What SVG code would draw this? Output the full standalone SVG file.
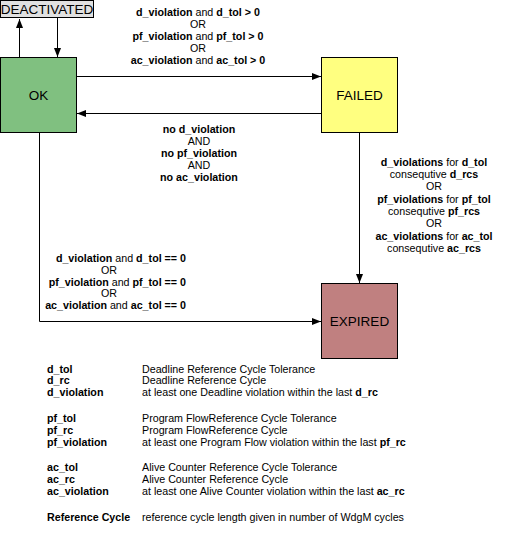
<svg xmlns="http://www.w3.org/2000/svg" width="512" height="539" viewBox="0 0 512 539">
  <style>
    text { font-family: "Liberation Sans", Arial, sans-serif; font-size: 10.7px; fill: #000; }
    .b { font-weight: bold; }
    .c { text-anchor: middle; }
    .e { text-anchor: end; }
    .state { stroke: #000; stroke-width: 1; }
    .state-label { font-size: 13.5px; text-anchor: middle; }
    .conn { fill: none; stroke: #000; stroke-width: 1; }
  </style>
  <defs>
    <marker id="arrow" markerUnits="userSpaceOnUse" markerWidth="10" markerHeight="8" refX="9" refY="4" orient="auto">
      <path d="M0,0.5 L9,4 L0,7.5 z" fill="#000"/>
    </marker>
  </defs>
  <rect width="512" height="539" fill="#fff"/>

  <!-- connectors -->
  <g id="connectors">
    <path class="conn" d="M19.5,57 V19" marker-end="url(#arrow)"/>
    <path class="conn" d="M57.5,18 V57" marker-end="url(#arrow)"/>
    <path class="conn" d="M76,76.5 H321" marker-end="url(#arrow)"/>
    <path class="conn" d="M321,113.5 H77" marker-end="url(#arrow)"/>
    <path class="conn" d="M359.5,132 V283" marker-end="url(#arrow)"/>
    <path class="conn" d="M39.5,132 V321.5 H321" marker-end="url(#arrow)"/>
  </g>

  <!-- states -->
  <g id="deactivated">
    <rect class="state" x="0.5" y="0.5" width="93" height="17" fill="#e0e0e0" stroke="#606060"/>
    <text class="state-label" x="47" y="14">DEACTIVATED</text>
  </g>
  <g id="ok">
    <rect class="state" x="0.5" y="57.5" width="76" height="75" fill="#80c080"/>
    <text class="state-label" x="38.5" y="100">OK</text>
  </g>
  <g id="failed">
    <rect class="state" x="321.5" y="57.5" width="76" height="75" fill="#ffff80"/>
    <text class="state-label" x="359.5" y="100">FAILED</text>
  </g>
  <g id="expired">
    <rect class="state" x="321.5" y="283.5" width="76" height="75" fill="#c08080"/>
    <text class="state-label" x="359.5" y="326">EXPIRED</text>
  </g>

  <!-- transition conditions -->
  <g id="label-ok-failed">
    <text class="c" x="198" y="16"><tspan class="b">d_violation</tspan> and <tspan class="b">d_tol &gt; 0</tspan></text>
    <text class="c" x="198" y="28">OR</text>
    <text class="c" x="198" y="40"><tspan class="b">pf_violation</tspan> and <tspan class="b">pf_tol &gt; 0</tspan></text>
    <text class="c" x="198" y="52">OR</text>
    <text class="c" x="198" y="64"><tspan class="b">ac_violation</tspan> and <tspan class="b">ac_tol &gt; 0</tspan></text>
  </g>
  <g id="label-failed-ok">
    <text class="c b" x="199" y="133">no d_violation</text>
    <text class="c" x="199" y="145">AND</text>
    <text class="c b" x="199" y="157">no pf_violation</text>
    <text class="c" x="199" y="169">AND</text>
    <text class="c b" x="199" y="181">no ac_violation</text>
  </g>
  <g id="label-failed-expired">
    <text class="c" x="434" y="166"><tspan class="b">d_violations</tspan> for <tspan class="b">d_tol</tspan></text>
    <text class="c" x="434" y="178">consequtive <tspan class="b">d_rcs</tspan></text>
    <text class="c" x="434" y="190">OR</text>
    <text class="c" x="434" y="203"><tspan class="b">pf_violations</tspan> for <tspan class="b">pf_tol</tspan></text>
    <text class="c" x="434" y="215">consequtive <tspan class="b">pf_rcs</tspan></text>
    <text class="c" x="434" y="227">OR</text>
    <text class="c" x="434" y="240"><tspan class="b">ac_violations</tspan> for <tspan class="b">ac_tol</tspan></text>
    <text class="c" x="434" y="252">consequtive <tspan class="b">ac_rcs</tspan></text>
  </g>
  <g id="label-ok-expired">
    <text class="e" x="186" y="262"><tspan class="b">d_violation</tspan> and <tspan class="b">d_tol == 0</tspan></text>
    <text class="c" x="109" y="274">OR</text>
    <text class="e" x="186" y="286"><tspan class="b">pf_violation</tspan> and <tspan class="b">pf_tol == 0</tspan></text>
    <text class="c" x="109" y="297">OR</text>
    <text class="e" x="186" y="309"><tspan class="b">ac_violation</tspan> and <tspan class="b">ac_tol == 0</tspan></text>
  </g>

  <!-- legend -->
  <g id="legend">
    <text class="b" x="47" y="373">d_tol</text>
    <text x="142" y="373">Deadline Reference Cycle Tolerance</text>
    <text class="b" x="47" y="384">d_rc</text>
    <text x="142" y="384">Deadline Reference Cycle</text>
    <text class="b" x="47" y="396">d_violation</text>
    <text x="142" y="396">at least one Deadline violation within the last <tspan class="b">d_rc</tspan></text>

    <text class="b" x="47" y="422">pf_tol</text>
    <text x="142" y="422">Program FlowReference Cycle Tolerance</text>
    <text class="b" x="47" y="434">pf_rc</text>
    <text x="142" y="434">Program FlowReference Cycle</text>
    <text class="b" x="47" y="446">pf_violation</text>
    <text x="142" y="446">at least one Program Flow violation within the last <tspan class="b">pf_rc</tspan></text>

    <text class="b" x="47" y="471">ac_tol</text>
    <text x="142" y="471">Alive Counter Reference Cycle Tolerance</text>
    <text class="b" x="47" y="483">ac_rc</text>
    <text x="142" y="483">Alive Counter Reference Cycle</text>
    <text class="b" x="47" y="495">ac_violation</text>
    <text x="142" y="495">at least one Alive Counter violation within the last <tspan class="b">ac_rc</tspan></text>

    <text class="b" x="47" y="521">Reference Cycle</text>
    <text x="142" y="521">reference cycle length given in number of WdgM cycles</text>
  </g>
</svg>
